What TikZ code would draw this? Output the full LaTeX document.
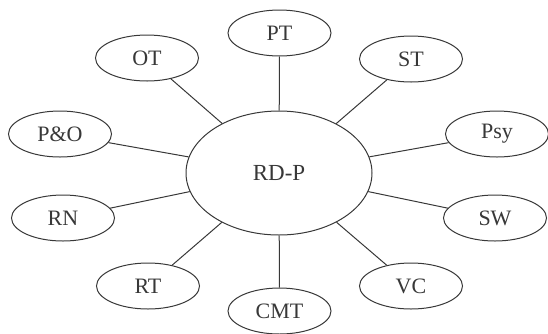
\documentclass[tikz,border=0pt]{standalone}
\usepackage{fontspec}
\setmainfont{Liberation Serif}
\usetikzlibrary{shapes.geometric}
\definecolor{ink}{HTML}{383838}
\tikzset{
  sat/.style={ellipse, draw=ink, line width=1pt, fill=white, inner sep=0pt,
    minimum width=103pt, minimum height=46pt, text=ink,
    font=\fontsize{22}{24}\selectfont},
  hub/.style={ellipse, draw=ink, line width=1pt, fill=white, inner sep=0pt,
    minimum width=186pt, minimum height=124pt, text=ink,
    font=\fontsize{23}{25}\selectfont},
  link/.style={draw=ink, line width=1pt}
}
\begin{document}
\begin{tikzpicture}[x=1pt,y=-1pt]
\useasboundingbox (0,0) rectangle (548,333);
\node[hub] (c) at (279,173) {RD-P};
\node[sat] (pt) at (279.5,33) {PT};
\node[sat] (st) at (411,59) {ST};
\node[sat] (psy) at (497,134) {Psy};
\node[sat] (sw) at (495,218) {SW};
\node[sat] (vc) at (411,286) {VC};
\node[sat] (cmt) at (279.5,311) {CMT};
\node[sat] (rt) at (148,286) {RT};
\node[sat] (rn) at (63,218) {RN};
\node[sat] (po) at (60,134) {P\&O};
\node[sat] (ot) at (147,58) {OT};
\foreach \s in {pt,st,psy,sw,vc,cmt,rt,rn,po,ot}
  \draw[link] (c) -- (\s);
\end{tikzpicture}
\end{document}
